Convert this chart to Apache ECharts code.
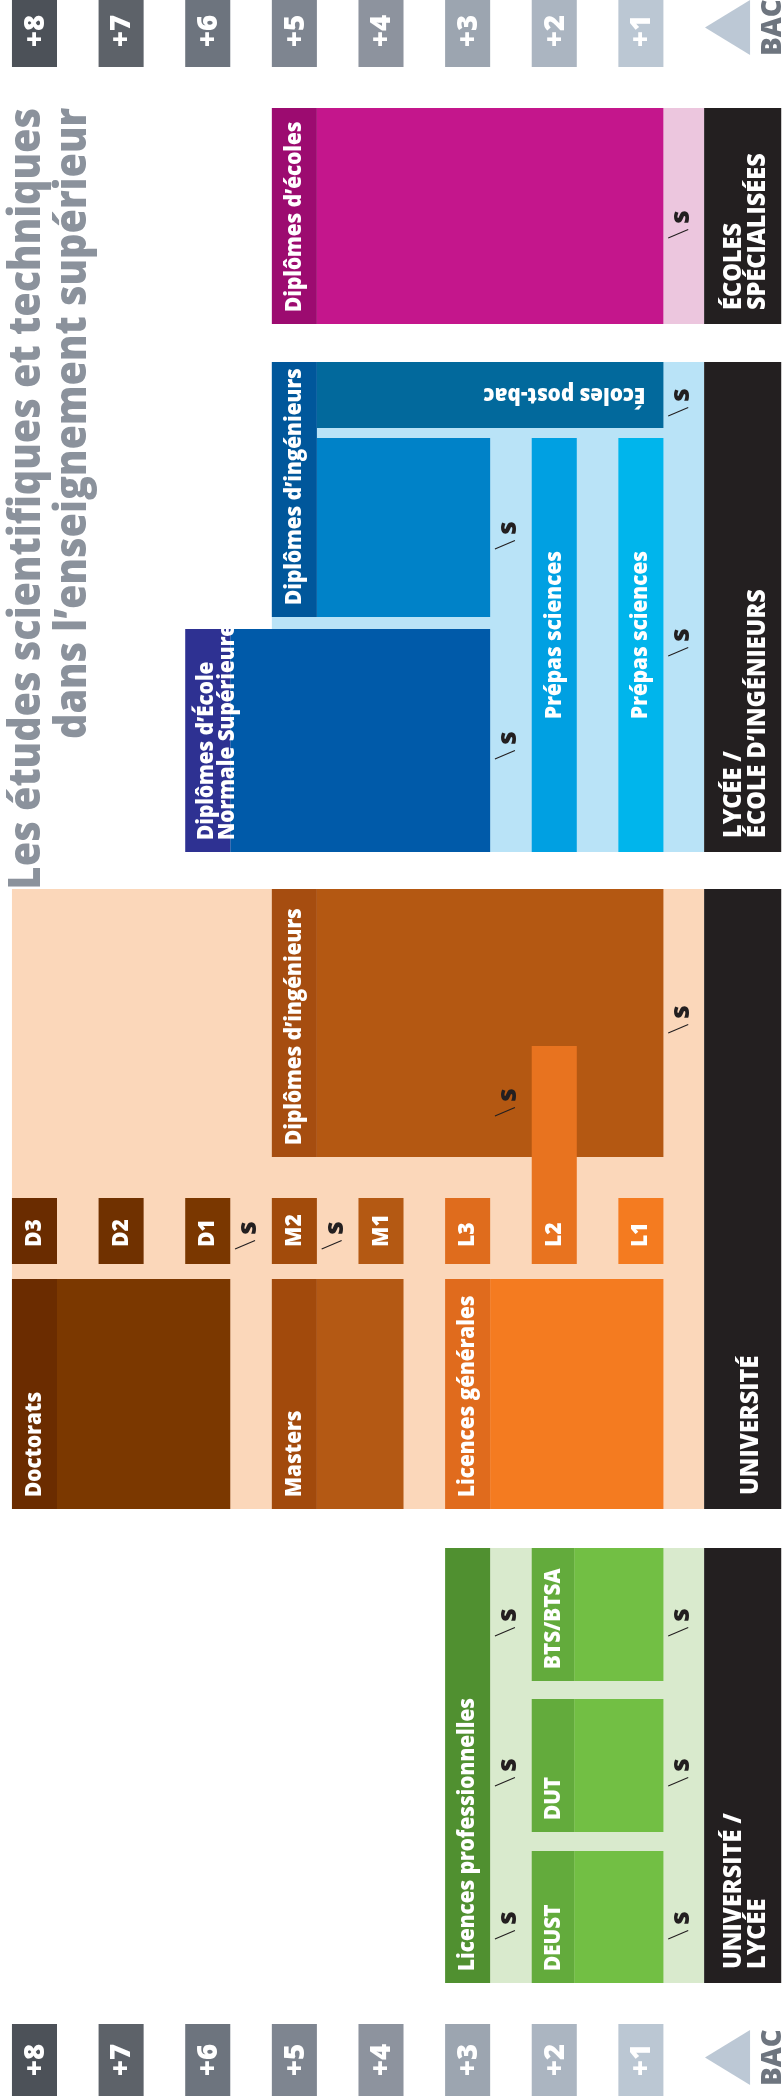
<!DOCTYPE html>
<html>
<head>
<meta charset="utf-8">
<script src="https://cdn.jsdelivr.net/npm/echarts@6.0.0/dist/echarts.min.js"></script>
<style>
html,body{margin:0;padding:0;background:#ffffff;}
#chart{width:784px;height:2100px;}
</style>
</head>
<body>
<div id="chart"></div>
<script>
// ---------- DATA ----------
// x axis: years of study after the baccalauréat (BAC = 0), drawn right-to-left
const TICK_LEVELS = [8, 7, 6, 5, 4, 3, 2, 1];
const TICK_LABELS = ['+8', '+7', '+6', '+5', '+4', '+3', '+2', '+1'];
const BAC_LABEL = 'BAC';
const TITLE_LINES = ['Les études scientifiques et techniques', 'dans l’enseignement supérieur'];

// y axis: rows of the diagram (one unit = one row step)
const TICK_ROWS = [[-0.5, 6.7], [202.4, 209.6]];
const BAC_ROWS = [[0.0, 5.5], [203.0, 208.5]];

// sections (institution bands)
const SECTION_NAMES = ['ÉCOLES\nSPÉCIALISÉES', 'LYCÉE /\nÉCOLE D’INGÉNIEURS', 'UNIVERSITÉ', 'UNIVERSITÉ /\nLYCÉE'];
const SECTION_LEVELS = [-0.62, 0.27];
const SECTION_ROWS = [[10.8, 32.4], [36.2, 85.2], [88.9, 150.9], [154.8, 198.3]];

// programmes: [label, level from, level to, row from, row to, kind]
const ECOLES_SPECIALISEES = [
  ['', 0.27, 0.74, 10.8, 32.4, 'ecoBg'],
  ['', 0.74, 4.74, 10.8, 32.4, 'ecoMain'],
  ['Diplômes d’écoles', 4.74, 5.26, 10.8, 32.4, 'ecoStrip']
];
const LYCEE_INGENIEURS = [
  ['', 0.27, 5.26, 36.2, 85.2, 'lyBg'],
  ['Écoles post-bac', 0.74, 4.74, 36.2, 42.8, 'lyPost'],
  ['', 2.74, 4.74, 43.8, 61.7, 'lyIngMain'],
  ['Diplômes d’ingénieurs', 4.74, 5.26, 36.2, 61.7, 'lyIngStrip'],
  ['Prépas sciences', 1.74, 2.26, 43.8, 85.2, 'prepa1'],
  ['Prépas sciences', 0.74, 1.26, 43.8, 85.2, 'prepa2'],
  ['', 2.74, 5.74, 62.9, 85.2, 'ensMain'],
  ['Diplômes d’École\nNormale Supérieure', 5.74, 6.26, 62.9, 85.2, 'ensStrip']
];
const UNIVERSITE = [
  ['', 0.27, 8.26, 88.9, 150.9, 'uniBg'],
  ['', 0.74, 4.74, 88.9, 115.7, 'uniIngMain'],
  ['Diplômes d’ingénieurs', 4.74, 5.26, 88.9, 115.7, 'uniIngStrip'],
  ['D3', 7.74, 8.26, 119.8, 126.4, 'd3'],
  ['D2', 6.74, 7.26, 119.8, 126.4, 'd2'],
  ['D1', 5.74, 6.26, 119.8, 126.4, 'd1'],
  ['M2', 4.74, 5.26, 119.8, 126.4, 'm2'],
  ['M1', 3.74, 4.26, 119.8, 126.4, 'm1'],
  ['L3', 2.74, 3.26, 119.8, 126.4, 'l3'],
  ['L2', 1.74, 2.26, 104.6, 126.4, 'l2'],
  ['L1', 0.74, 1.26, 119.8, 126.4, 'l1'],
  ['', 5.74, 7.74, 127.9, 150.9, 'docMain'],
  ['Doctorats', 7.74, 8.26, 127.9, 150.9, 'docStrip'],
  ['', 3.74, 4.74, 127.9, 150.9, 'masMain'],
  ['Masters', 4.74, 5.26, 127.9, 150.9, 'masStrip'],
  ['', 0.74, 2.74, 127.9, 150.9, 'licMain'],
  ['Licences générales', 2.74, 3.26, 127.9, 150.9, 'licStrip']
];
const UNIVERSITE_LYCEE = [
  ['', 0.27, 2.74, 154.8, 198.3, 'greenBg'],
  ['Licences professionnelles', 2.74, 3.26, 154.8, 198.3, 'proStrip'],
  ['', 0.74, 1.77, 154.8, 168.1, 'btsMain'],
  ['BTS/BTSA', 1.77, 2.26, 154.8, 168.1, 'btsStrip'],
  ['', 0.74, 1.77, 169.9, 183.2, 'btsMain'],
  ['DUT', 1.77, 2.26, 169.9, 183.2, 'btsStrip'],
  ['', 0.74, 1.77, 185.1, 198.3, 'btsMain'],
  ['DEUST', 1.77, 2.26, 185.1, 198.3, 'btsStrip']
];

// selective admission marks "\s": [level, row]
const SELECTION_MARKS = [
  [0.5, 22.6],
  [0.5, 40.4], [2.5, 53.7], [0.5, 64.4], [2.5, 74.7],
  [0.5, 102.1], [2.5, 110.4], [5.5, 123.7], [4.5, 123.7],
  [0.5, 162.4], [2.5, 162.4], [0.5, 177.4], [2.5, 177.4], [0.5, 192.7], [2.5, 192.7]
];

// ---------- STYLES ----------
const TICK_COLORS = ['#4c5158', '#5d6269', '#6d747e', '#7e8590', '#8d939e', '#9ca5b0', '#abb5c1', '#bbc7d3'];
const BAC_TRIANGLE_COLOR = '#bcc8d5';
const BAC_TEXT_COLOR = '#6e757f';
const TITLE_COLOR = '#8b929c';
const SECTION_COLOR = '#231f20';
const FONT = '"Open Sans", "Noto Sans", sans-serif';
const HEAVY = 800;

const S = (color, label, extra) => Object.assign({ color, label }, extra || {});
const KIND_STYLE = {
  ecoBg: S('#ecc6de'), ecoMain: S('#c4168c'), ecoStrip: S('#9c0b70', 'start'),
  lyBg: S('#b9e3f7'), lyPost: S('#02699c', 'flip'), lyIngMain: S('#0082c8'), lyIngStrip: S('#00579b', 'start'),
  prepa1: S('#00a0e2', 'center'), prepa2: S('#00b5ec', 'center'),
  ensMain: S('#005aa9'), ensStrip: S('#2e3192', 'start', { dx: 9, lh: 21 }),
  uniBg: S('#fbd7ba'), uniIngMain: S('#b45812'), uniIngStrip: S('#a64d10', 'start'),
  d3: S('#6a2c00', 'box'), d2: S('#703100', 'box'), d1: S('#7a3700', 'box'),
  m2: S('#a24b0b', 'box'), m1: S('#b45913', 'box'),
  l3: S('#df6c1d', 'box'), l2: S('#e8731f', 'box'), l1: S('#f47b20', 'box'),
  docMain: S('#7b3800'), docStrip: S('#6b2c00', 'start'),
  masMain: S('#b45914'), masStrip: S('#a24a0c', 'start'),
  licMain: S('#f47b20'), licStrip: S('#e06b1d', 'start'),
  greenBg: S('#d9eacd'), proStrip: S('#509030', 'start'),
  btsMain: S('#72bf44'), btsStrip: S('#63ab3c', 'start')
};

const BLOCKS = [].concat(ECOLES_SPECIALISEES, LYCEE_INGENIEURS, UNIVERSITE, UNIVERSITE_LYCEE);

// ---------- CHART ----------
const chart = echarts.init(document.getElementById('chart'), null, { renderer: 'canvas' });

function box(api, l0, l1, r0, r1) {
  const a = api.coord([l0, r0]);
  const c = api.coord([l1, r1]);
  return {
    x: Math.min(a[0], c[0]), y: Math.min(a[1], c[1]),
    width: Math.abs(c[0] - a[0]), height: Math.abs(c[1] - a[1])
  };
}

function whiteText(text, x, y, rotation, align, size, sx, lh) {
  return {
    type: 'text', x, y, rotation, scaleX: sx,
    style: {
      text, fill: '#ffffff', fontFamily: FONT, fontWeight: HEAVY, fontSize: size,
      align, verticalAlign: 'middle', lineHeight: lh || size + 1
    }
  };
}

function renderBlock(params, api) {
  const b = BLOCKS[params.dataIndex];
  const st = KIND_STYLE[b[5]];
  const r = box(api, api.value(0), api.value(1), api.value(2), api.value(3));
  const children = [{ type: 'rect', shape: r, style: { fill: st.color } }];
  const cx = r.x + r.width / 2;
  if (b[0] && st.label === 'start') {
    children.push(whiteText(b[0], cx + (st.dx || 0), r.y + r.height - 12, Math.PI / 2, 'left', 23, 0.9, st.lh));
  } else if (b[0] && st.label === 'box') {
    children.push(whiteText(b[0], cx, r.y + r.height - 17, Math.PI / 2, 'left', 23, 0.92));
  } else if (b[0] && st.label === 'center') {
    children.push(whiteText(b[0], cx, r.y + r.height / 2 - 10, Math.PI / 2, 'center', 23, 0.9));
  } else if (b[0] && st.label === 'flip') {
    children.push(whiteText(b[0], r.x + r.width - 18, r.y + r.height / 2, Math.PI, 'left', 23, 0.9));
  }
  return { type: 'group', children };
}

function renderSection(params, api) {
  const i = params.dataIndex;
  const r = box(api, api.value(0), api.value(1), api.value(2), api.value(3));
  const oneLine = SECTION_NAMES[i].indexOf('\n') < 0;
  return {
    type: 'group',
    children: [
      { type: 'rect', shape: r, style: { fill: SECTION_COLOR } },
      whiteText(SECTION_NAMES[i], r.x + r.width / 2 + (oneLine ? 8 : 3), r.y + r.height - 14,
                Math.PI / 2, 'left', 24, 0.98, 24)
    ]
  };
}

function renderMark(params, api) {
  const p = api.coord([api.value(0), api.value(1)]);
  return {
    type: 'group',
    children: [
      { type: 'line', shape: { x1: p[0] - 16, y1: p[1] + 12, x2: p[0] + 4, y2: p[1] + 3.5 },
        style: { stroke: '#231f20', lineWidth: 1.1 } },
      { type: 'text', x: p[0] - 2.5, y: p[1] - 9, rotation: Math.PI / 2,
        style: { text: 's', fill: '#231f20', fontFamily: FONT, fontWeight: HEAVY, fontSize: 26,
                 align: 'center', verticalAlign: 'middle' } }
    ]
  };
}

function renderTick(params, api) {
  const i = params.dataIndex % TICK_LEVELS.length;
  const lv = api.value(0);
  const r = box(api, lv - 0.26, lv + 0.26, api.value(1), api.value(2));
  return {
    type: 'group',
    children: [
      { type: 'rect', shape: r, style: { fill: TICK_COLORS[i] } },
      { type: 'text', x: r.x + r.width / 2 + 1, y: r.y + r.height / 2, rotation: Math.PI / 2, scaleX: 0.95,
        style: { text: TICK_LABELS[i], fill: '#ffffff', fontFamily: FONT, fontWeight: HEAVY, fontSize: 29,
                 align: 'center', verticalAlign: 'middle' } }
    ]
  };
}

function renderBac(params, api) {
  const lv = api.value(0);
  const r0 = api.value(1), r1 = api.value(2);
  const tip = api.coord([lv + 0.26, (r0 + r1) / 2]);
  const b0 = api.coord([lv - 0.26, r0]);
  const b1 = api.coord([lv - 0.26, r1]);
  const t = api.coord([lv - 0.51, (r0 + r1) / 2]);
  return {
    type: 'group',
    children: [
      { type: 'polygon', shape: { points: [tip, b0, b1] }, style: { fill: BAC_TRIANGLE_COLOR } },
      { type: 'text', x: t[0] + 1, y: t[1], rotation: Math.PI / 2, scaleX: 0.95,
        style: { text: BAC_LABEL, fill: BAC_TEXT_COLOR, fontFamily: FONT, fontWeight: HEAVY, fontSize: 29,
                 align: 'center', verticalAlign: 'middle' } }
    ]
  };
}

const tickData = [];
TICK_ROWS.forEach(rows => TICK_LEVELS.forEach(lv => tickData.push([lv, rows[0], rows[1]])));

chart.setOption({
  animation: false,
  backgroundColor: '#ffffff',
  grid: { left: 0, right: 0, top: 0, bottom: 0, containLabel: false },
  xAxis: { type: 'value', inverse: true, min: -0.652, max: 8.398, show: false },
  yAxis: { type: 'value', inverse: true, min: 0, max: 210, show: false },
  graphic: [
    { type: 'text', x: 27, y: 108, rotation: Math.PI / 2, scaleX: 0.9, z: 100,
      style: { text: TITLE_LINES[0], fill: TITLE_COLOR, fontFamily: FONT, fontWeight: HEAVY, fontSize: 44,
               align: 'right', verticalAlign: 'middle' } },
    { type: 'text', x: 73, y: 108, rotation: Math.PI / 2, scaleX: 0.9, z: 100,
      style: { text: TITLE_LINES[1], fill: TITLE_COLOR, fontFamily: FONT, fontWeight: HEAVY, fontSize: 44,
               align: 'right', verticalAlign: 'middle' } }
  ],
  series: [
    { type: 'custom', name: 'programmes', renderItem: renderBlock, encode: { x: [0, 1], y: [2, 3] },
      data: BLOCKS.map(b => [b[1], b[2], b[3], b[4]]), z: 2 },
    { type: 'custom', name: 'sections', renderItem: renderSection, encode: { x: [0, 1], y: [2, 3] },
      data: SECTION_ROWS.map(r => [SECTION_LEVELS[0], SECTION_LEVELS[1], r[0], r[1]]), z: 3 },
    { type: 'custom', name: 'sélection', renderItem: renderMark, encode: { x: 0, y: 1 },
      data: SELECTION_MARKS, z: 4 },
    { type: 'custom', name: 'années', renderItem: renderTick, encode: { x: 0, y: [1, 2] },
      data: tickData, z: 4 },
    { type: 'custom', name: 'bac', renderItem: renderBac, encode: { x: 0, y: [1, 2] },
      data: BAC_ROWS.map(r => [0, r[0], r[1]]), z: 4 }
  ]
});
</script>
</body>
</html>
